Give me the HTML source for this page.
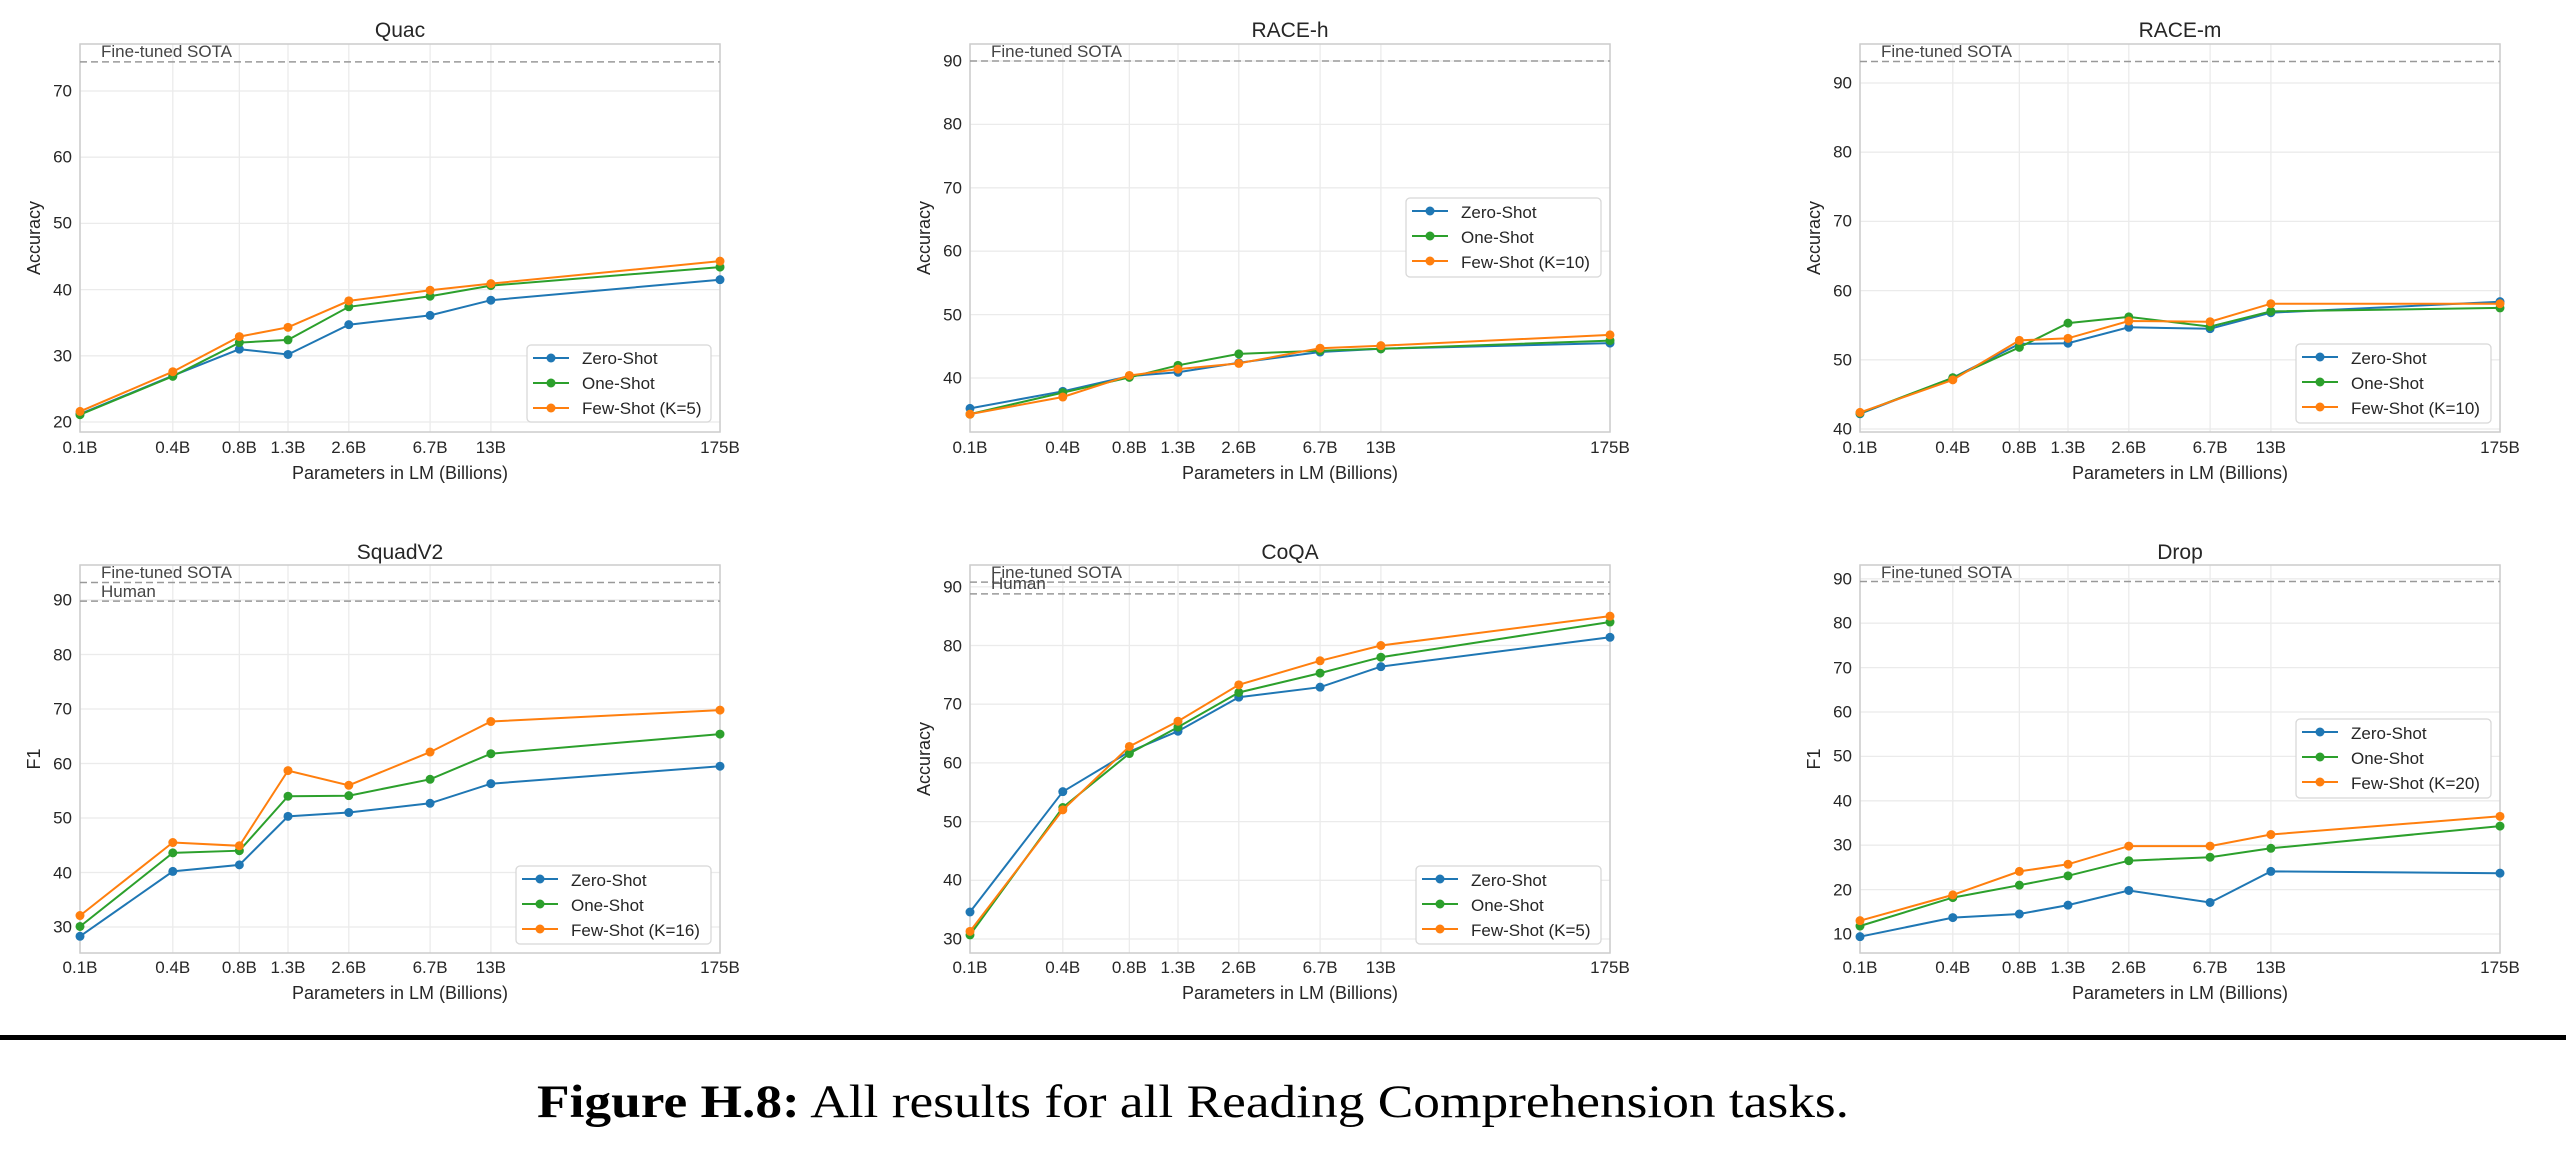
<!DOCTYPE html>
<html><head><meta charset="utf-8"><style>
html,body{margin:0;padding:0;background:#fff;width:2566px;height:1154px;overflow:hidden}
svg text{font-family:"Liberation Sans",sans-serif;fill:#262626}
.t{font-size:17px}
.yl{font-size:17px;text-anchor:end;dominant-baseline:central}
.xl{font-size:17px;text-anchor:middle}
.ti{font-size:21px;text-anchor:middle}
.lab{font-size:18px;text-anchor:middle}
.sota{font-size:17px;fill:#444}
.leg{font-size:17px}
</style></head><body>
<svg id="s" width="2566" height="1154" xmlns="http://www.w3.org/2000/svg">
<g id="grid"></g>
<g id="series"></g>
<!-- Titles -->
<text class="ti" x="400" y="37">Quac</text>
<text class="ti" x="1290" y="37">RACE-h</text>
<text class="ti" x="2180" y="37">RACE-m</text>
<text class="ti" x="400" y="559">SquadV2</text>
<text class="ti" x="1290" y="559">CoQA</text>
<text class="ti" x="2180" y="559">Drop</text>
<!-- y labels -->
<text class="lab" transform="translate(40,238) rotate(-90)">Accuracy</text>
<text class="lab" transform="translate(930,238) rotate(-90)">Accuracy</text>
<text class="lab" transform="translate(1820,238) rotate(-90)">Accuracy</text>
<text class="lab" transform="translate(40,759) rotate(-90)">F1</text>
<text class="lab" transform="translate(930,759) rotate(-90)">Accuracy</text>
<text class="lab" transform="translate(1820,759) rotate(-90)">F1</text>
<!-- x labels -->
<text class="lab" x="400" y="479">Parameters in LM (Billions)</text>
<text class="lab" x="1290" y="479">Parameters in LM (Billions)</text>
<text class="lab" x="2180" y="479">Parameters in LM (Billions)</text>
<text class="lab" x="400" y="999">Parameters in LM (Billions)</text>
<text class="lab" x="1290" y="999">Parameters in LM (Billions)</text>
<text class="lab" x="2180" y="999">Parameters in LM (Billions)</text>
<!-- y tick labels -->
<g>
<text class="yl" x="72" y="422">20</text><text class="yl" x="72" y="356">30</text><text class="yl" x="72" y="290">40</text><text class="yl" x="72" y="223">50</text><text class="yl" x="72" y="157">60</text><text class="yl" x="72" y="91">70</text>
<text class="yl" x="962" y="378">40</text><text class="yl" x="962" y="315">50</text><text class="yl" x="962" y="251">60</text><text class="yl" x="962" y="188">70</text><text class="yl" x="962" y="124">80</text><text class="yl" x="962" y="61">90</text>
<text class="yl" x="1852" y="429">40</text><text class="yl" x="1852" y="360">50</text><text class="yl" x="1852" y="291">60</text><text class="yl" x="1852" y="221">70</text><text class="yl" x="1852" y="152">80</text><text class="yl" x="1852" y="83">90</text>
<text class="yl" x="72" y="927">30</text><text class="yl" x="72" y="873">40</text><text class="yl" x="72" y="818">50</text><text class="yl" x="72" y="764">60</text><text class="yl" x="72" y="709">70</text><text class="yl" x="72" y="655">80</text><text class="yl" x="72" y="600">90</text>
<text class="yl" x="962" y="939">30</text><text class="yl" x="962" y="880">40</text><text class="yl" x="962" y="822">50</text><text class="yl" x="962" y="763">60</text><text class="yl" x="962" y="704">70</text><text class="yl" x="962" y="646">80</text><text class="yl" x="962" y="587">90</text>
<text class="yl" x="1852" y="934">10</text><text class="yl" x="1852" y="890">20</text><text class="yl" x="1852" y="845">30</text><text class="yl" x="1852" y="801">40</text><text class="yl" x="1852" y="756">50</text><text class="yl" x="1852" y="712">60</text><text class="yl" x="1852" y="668">70</text><text class="yl" x="1852" y="623">80</text><text class="yl" x="1852" y="579">90</text>
</g>
<!-- x tick labels -->
<g transform="translate(80,453)"><text class="xl" x="0">0.1B</text><text class="xl" x="92.8">0.4B</text><text class="xl" x="159.4">0.8B</text><text class="xl" x="208">1.3B</text><text class="xl" x="268.8">2.6B</text><text class="xl" x="350.1">6.7B</text><text class="xl" x="410.9">13B</text><text class="xl" x="640">175B</text></g>
<g transform="translate(970,453)"><text class="xl" x="0">0.1B</text><text class="xl" x="92.8">0.4B</text><text class="xl" x="159.4">0.8B</text><text class="xl" x="208">1.3B</text><text class="xl" x="268.8">2.6B</text><text class="xl" x="350.1">6.7B</text><text class="xl" x="410.9">13B</text><text class="xl" x="640">175B</text></g>
<g transform="translate(1860,453)"><text class="xl" x="0">0.1B</text><text class="xl" x="92.8">0.4B</text><text class="xl" x="159.4">0.8B</text><text class="xl" x="208">1.3B</text><text class="xl" x="268.8">2.6B</text><text class="xl" x="350.1">6.7B</text><text class="xl" x="410.9">13B</text><text class="xl" x="640">175B</text></g>
<g transform="translate(80,973)"><text class="xl" x="0">0.1B</text><text class="xl" x="92.8">0.4B</text><text class="xl" x="159.4">0.8B</text><text class="xl" x="208">1.3B</text><text class="xl" x="268.8">2.6B</text><text class="xl" x="350.1">6.7B</text><text class="xl" x="410.9">13B</text><text class="xl" x="640">175B</text></g>
<g transform="translate(970,973)"><text class="xl" x="0">0.1B</text><text class="xl" x="92.8">0.4B</text><text class="xl" x="159.4">0.8B</text><text class="xl" x="208">1.3B</text><text class="xl" x="268.8">2.6B</text><text class="xl" x="350.1">6.7B</text><text class="xl" x="410.9">13B</text><text class="xl" x="640">175B</text></g>
<g transform="translate(1860,973)"><text class="xl" x="0">0.1B</text><text class="xl" x="92.8">0.4B</text><text class="xl" x="159.4">0.8B</text><text class="xl" x="208">1.3B</text><text class="xl" x="268.8">2.6B</text><text class="xl" x="350.1">6.7B</text><text class="xl" x="410.9">13B</text><text class="xl" x="640">175B</text></g>
<!-- SOTA / Human labels -->
<text class="sota" x="101" y="57">Fine-tuned SOTA</text>
<text class="sota" x="991" y="57">Fine-tuned SOTA</text>
<text class="sota" x="1881" y="57">Fine-tuned SOTA</text>
<text class="sota" x="101" y="578">Fine-tuned SOTA</text>
<text class="sota" x="101" y="597">Human</text>
<text class="sota" x="991" y="578">Fine-tuned SOTA</text>
<text class="sota" x="991" y="589">Human</text>
<text class="sota" x="1881" y="578">Fine-tuned SOTA</text>
<g id="legends"></g>
<!-- legend texts -->
<g class="leg">
<text class="leg" x="582" y="364">Zero-Shot</text><text class="leg" x="582" y="389">One-Shot</text><text class="leg" x="582" y="414">Few-Shot (K=5)</text>
<text class="leg" x="1461" y="218">Zero-Shot</text><text class="leg" x="1461" y="243">One-Shot</text><text class="leg" x="1461" y="268">Few-Shot (K=10)</text>
<text class="leg" x="2351" y="364">Zero-Shot</text><text class="leg" x="2351" y="389">One-Shot</text><text class="leg" x="2351" y="414">Few-Shot (K=10)</text>
<text class="leg" x="571" y="886">Zero-Shot</text><text class="leg" x="571" y="911">One-Shot</text><text class="leg" x="571" y="936">Few-Shot (K=16)</text>
<text class="leg" x="1471" y="886">Zero-Shot</text><text class="leg" x="1471" y="911">One-Shot</text><text class="leg" x="1471" y="936">Few-Shot (K=5)</text>
<text class="leg" x="2351" y="739">Zero-Shot</text><text class="leg" x="2351" y="764">One-Shot</text><text class="leg" x="2351" y="789">Few-Shot (K=20)</text>
</g>
<rect x="0" y="1035" width="2566" height="5" fill="#000"/>
<text x="537" y="1117" textLength="1312" lengthAdjust="spacingAndGlyphs" style="font-family:'Liberation Serif',serif;font-size:47px;fill:#000"><tspan font-weight="bold">Figure H.8:</tspan> All results for all Reading Comprehension tasks.</text>
</svg>
<script>
var NS="http://www.w3.org/2000/svg";
function el(p,t,a){var e=document.createElementNS(NS,t);for(var k in a)e.setAttribute(k,a[k]);p.appendChild(e);return e;}
var G=document.getElementById('grid'),S=document.getElementById('series'),LG=document.getElementById('legends');
var FR=[0,0.145,0.249,0.325,0.42,0.547,0.642,1];
var C=['#1f77b4','#2ca02c','#ff7f0e'];
var charts=[
{L:80,R:720,T:44,B:432,yr:422,vr:20,k:6.62,ticks:[20,30,40,50,60,70],ref:[74.4],
 d:[[21.2,27,31,30.2,34.7,36.1,38.4,41.5],[21.1,26.9,32,32.4,37.4,39,40.6,43.4],[21.6,27.6,32.9,34.3,38.3,39.9,40.9,44.3]],lg:[527,345,711,422]},
{L:970,R:1610,T:44,B:432,yr:378,vr:40,k:6.34,ticks:[40,50,60,70,80,90],ref:[90],
 d:[[35.2,37.9,40.3,40.9,42.4,44.1,44.6,45.5],[34.3,37.7,40.1,42.0,43.8,44.3,44.6,45.9],[34.3,37.0,40.4,41.4,42.3,44.7,45.1,46.8]],lg:[1406,198,1601,277]},
{L:1860,R:2500,T:44,B:432,yr:429,vr:40,k:6.92,ticks:[40,50,60,70,80,90],ref:[93.1],
 d:[[42.2,47.4,52.3,52.4,54.7,54.5,56.8,58.4],[42.3,47.4,51.8,55.3,56.2,54.8,57.0,57.5],[42.4,47.1,52.8,53.1,55.6,55.5,58.1,58.1]],lg:[2296,344,2491,423]},
{L:80,R:720,T:565,B:953,yr:927,vr:30,k:5.45,ticks:[30,40,50,60,70,80,90],ref:[93.2,89.8],
 d:[[28.3,40.2,41.4,50.3,51.0,52.7,56.3,59.5],[30.1,43.6,44.0,54.0,54.1,57.1,61.8,65.4],[32.1,45.5,44.9,58.7,56.0,62.1,67.7,69.8]],lg:[516,866,711,944]},
{L:970,R:1610,T:565,B:953,yr:939,vr:30,k:5.87,ticks:[30,40,50,60,70,80,90],ref:[90.8,88.8],
 d:[[34.6,55.1,61.9,65.4,71.2,72.9,76.4,81.4],[30.7,52.4,61.6,66.1,72.0,75.3,78.0,84.0],[31.3,52.0,62.8,67.1,73.3,77.4,80.0,85.0]],lg:[1416,866,1601,944]},
{L:1860,R:2500,T:565,B:953,yr:934,vr:10,k:4.44,ticks:[10,20,30,40,50,60,70,80,90],ref:[89.4],
 d:[[9.4,13.7,14.5,16.5,19.8,17.1,24.1,23.7],[11.8,18.2,21.0,23.1,26.5,27.3,29.3,34.3],[13.0,18.8,24.1,25.7,29.8,29.8,32.4,36.5]],lg:[2296,719,2491,798]}
];
charts.forEach(function(c){
 var W=c.R-c.L,y=function(v){return c.yr-(v-c.vr)*c.k;};
 FR.forEach(function(f){var x=c.L+f*W;el(G,'line',{x1:x,x2:x,y1:c.T,y2:c.B,stroke:'#ebebeb','stroke-width':1.3});});
 c.ticks.forEach(function(t){var yy=y(t);el(G,'line',{x1:c.L,x2:c.R,y1:yy,y2:yy,stroke:'#ebebeb','stroke-width':1.3});});
 el(G,'rect',{x:c.L,y:c.T,width:W,height:c.B-c.T,fill:'none',stroke:'#cccccc','stroke-width':1.5});
 c.ref.forEach(function(r){var yy=y(r);el(G,'line',{x1:c.L,x2:c.R,y1:yy,y2:yy,stroke:'#999','stroke-width':1.5,'stroke-dasharray':'7,4'});});
 c.d.forEach(function(s,i){
  var pts=s.map(function(v,j){return (c.L+FR[j]*W).toFixed(1)+','+y(v).toFixed(1);}).join(' ');
  el(S,'polyline',{points:pts,fill:'none',stroke:C[i],'stroke-width':2});
  s.forEach(function(v,j){el(S,'circle',{cx:c.L+FR[j]*W,cy:y(v),r:4.5,fill:C[i]});});
 });
 var g=c.lg;
 el(LG,'rect',{x:g[0],y:g[1],width:g[2]-g[0],height:g[3]-g[1],rx:4,fill:'#fff',stroke:'#d8d8d8','stroke-width':1.3});
 for(var i=0;i<3;i++){var yy=g[1]+13+i*25,x0=g[0]+6;
  el(LG,'line',{x1:x0,x2:x0+36,y1:yy,y2:yy,stroke:C[i],'stroke-width':2});
  el(LG,'circle',{cx:x0+18,cy:yy,r:4.5,fill:C[i]});}
});
</script>
</body></html>
